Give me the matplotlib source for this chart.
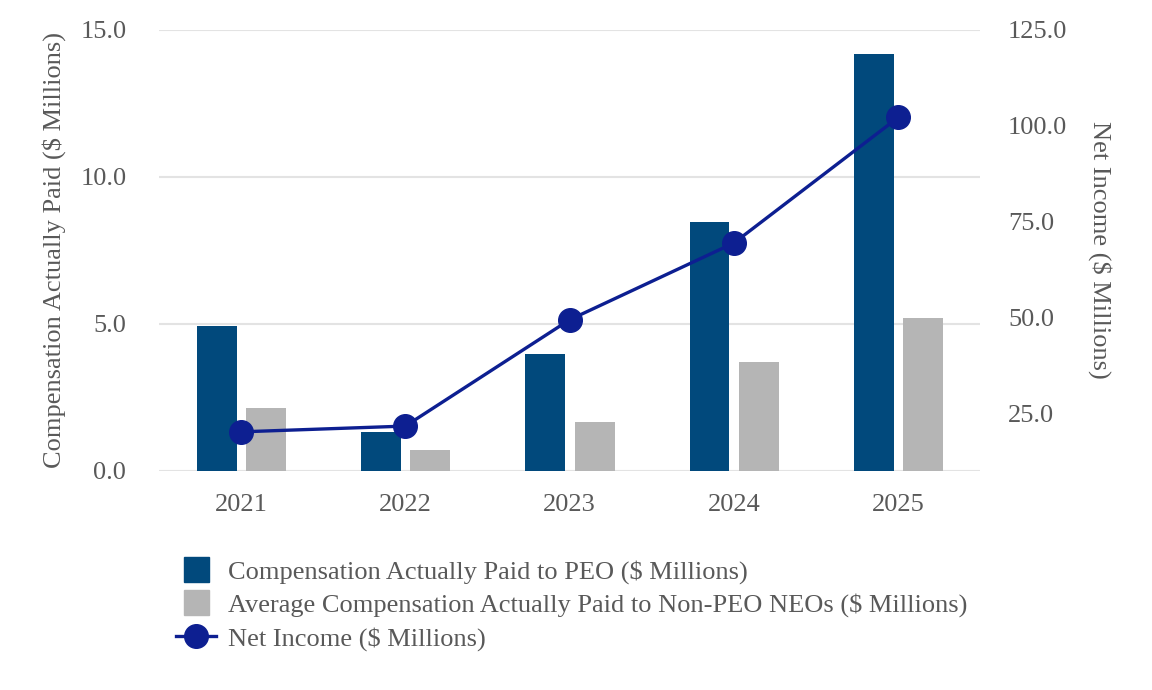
import numpy as np
import matplotlib.pyplot as plt
from matplotlib.patches import Rectangle
from matplotlib.legend_handler import HandlerPatch

years = ["2021", "2022", "2023", "2024", "2025"]
cap_peo = [4.93, 1.33, 3.98, 8.46, 14.17]
cap_neo = [2.14, 0.71, 1.66, 3.70, 5.20]
net_income = [20.2, 21.7, 49.4, 69.4, 102.1]

left_ticks = [0, 5, 10, 15]
right_ticks = [25, 50, 75, 100, 125]

plt.rcParams['font.family'] = ['Liberation Serif', 'DejaVu Serif']
txt = '#595959'
blue = '#01497C'
gray = '#B5B5B5'
navy = '#0D1F91'

fig = plt.figure(figsize=(11.52, 6.9), dpi=100)
ax = fig.add_axes([0.138, 0.3174, 0.713, 0.6398])
ax2 = ax.twinx()

x = np.arange(len(years))
w = 0.243
ax.bar(x - 0.149, cap_peo, w, color=blue, zorder=2)
ax.bar(x + 0.152, cap_neo, w, color=gray, zorder=2)
ln, = ax2.plot(x, net_income, color=navy, lw=2.4, marker='o', ms=17,
               label='Net Income ($ Millions)')

ax.set_xlim(-0.5, 4.5)
ax.set_ylim(0, 15)
ax.set_yticks(left_ticks)
ax.set_yticklabels([f"{t:.1f}" for t in left_ticks])
ax2.set_ylim(10, 125)
ax2.set_yticks(right_ticks)
ax2.set_yticklabels([f"{t:.1f}" for t in right_ticks])
ax.set_xticks(x)
ax.set_xticklabels(years)

ax.grid(axis='y', color='#E3E3E3', lw=1.5, zorder=0)
ax.set_axisbelow(True)
for a in (ax, ax2):
    for s in a.spines.values():
        s.set_visible(False)
ax.tick_params(axis='y', length=0, pad=23.5, labelsize=19, labelcolor=txt)
ax.tick_params(axis='x', length=0, pad=16.5, labelsize=19, labelcolor=txt)
ax2.tick_params(axis='y', length=0, pad=20, labelsize=19, labelcolor=txt)

ax.set_ylabel("Compensation Actually Paid ($ Millions)", fontsize=19, color=txt, labelpad=10)
ax2.set_ylabel("Net Income ($ Millions)", fontsize=19, color=txt, rotation=270, labelpad=32)


def square(legend, orig_handle, xdescent, ydescent, width, height, fontsize):
    side = height * 1.35
    return Rectangle((width / 2 - side / 2 - xdescent, height / 2 - side / 2 - ydescent), side, side)


p1 = Rectangle((0, 0), 1, 1, color=blue, label='Compensation Actually Paid to PEO ($ Millions)')
p2 = Rectangle((0, 0), 1, 1, color=gray,
               label='Average Compensation Actually Paid to Non-PEO NEOs ($ Millions)')
handles = [p1, p2, ln]
labels = [h.get_label() for h in handles]
fig.legend(handles, labels, loc='upper left', bbox_to_anchor=(0.1416, 0.207),
           frameon=False, fontsize=19, labelcolor=txt, handlelength=1.5,
           handletextpad=0.45, labelspacing=0.35, borderpad=0,
           handler_map={Rectangle: HandlerPatch(patch_func=square)})

fig.savefig('out.png', dpi=100)
